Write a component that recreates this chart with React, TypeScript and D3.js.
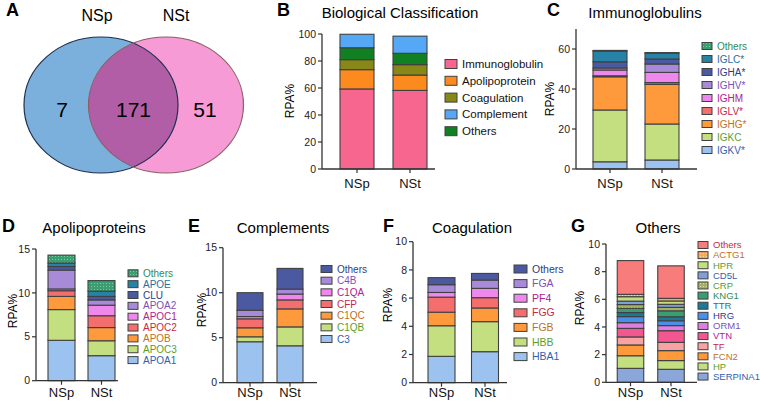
import React from "react";
import * as d3 from "d3";

const FONT = "'Liberation Sans', Arial, Helvetica, sans-serif";

const categories = ["NSp", "NSt"];

// Panel A – Venn
const vennSets = ["NSp", "NSt"];
const vennCounts = [7, 171, 51]; // NSp only, shared, NSt only

// Panel B – Biological classification
const bioLegend = ["Immunoglobulin", "Apolipoprotein", "Coagulation", "Complement", "Others"];
const bioStack = ["Immunoglobulin", "Apolipoprotein", "Coagulation", "Others", "Complement"];
const bioNSp = [59.3, 14.3, 7.4, 10.0, 8.8];
const bioNSt = [58.2, 11.4, 7.7, 12.7, 8.4];
const bioTicks = [0, 20, 40, 60, 80, 100];

// Panel C – Immunoglobulins (bottom -> top)
const igSeries = ["IGKV*", "IGKC", "IGHG*", "IGLV*", "IGHM", "IGHV*", "IGHA*", "IGLC*", "Others"];
const igNSp = [3.6, 25.9, 16.6, 0.5, 2.9, 1.0, 3.1, 5.3, 0.4];
const igNSt = [4.5, 18.0, 19.8, 0.9, 5.1, 4.2, 2.5, 2.9, 0.3];
const igTicks = [0, 20, 40, 60];

// Panel D – Apolipoproteins
const apoSeries = ["APOA1", "APOC3", "APOB", "APOC2", "APOC1", "APOA2", "CLU", "APOE", "Others"];
const apoNSp = [4.6, 3.5, 1.5, 0.65, 0.2, 2.15, 0.4, 0.4, 0.9];
const apoNSt = [2.85, 1.7, 1.5, 1.35, 1.2, 0.6, 0.4, 0.6, 1.2];
const apoTicks = [0, 5, 10, 15];

// Panel E – Complements
const compSeries = ["C3", "C1QB", "C1QC", "CFP", "C1QA", "C4B", "Others"];
const compNSp = [4.55, 0.55, 1.0, 1.0, 0.25, 0.7, 1.95];
const compNSt = [4.1, 2.1, 2.0, 1.0, 0.65, 0.55, 2.3];
const compTicks = [0, 5, 10, 15];

// Panel F – Coagulation
const coagSeries = ["HBA1", "HBB", "FGB", "FGG", "PF4", "FGA", "Others"];
const coagNSp = [1.87, 2.17, 0.96, 1.07, 0.33, 0.55, 0.5];
const coagNSt = [2.2, 2.13, 0.97, 0.73, 0.66, 0.59, 0.47];
const coagTicks = [0, 2, 4, 6, 8, 10];

// Panel G – Others
const othSeries = ["SERPINA1", "HP", "FCN2", "TF", "VTN", "ORM1", "HRG", "TTR", "KNG1", "CRP", "CD5L", "HPR", "ACTG1", "Others"];
const othNSp = [1.01, 0.91, 0.78, 0.58, 0.62, 0.41, 0.44, 0.29, 0.31, 0.27, 0.25, 0.32, 0.17, 2.44];
const othNSt = [0.94, 0.63, 0.72, 0.6, 0.84, 0.37, 0.35, 0.29, 0.43, 0.25, 0.22, 0.24, 0.19, 2.35];
const othTicks = [0, 2, 4, 6, 8, 10];

// ---------- styles ----------
const LB = "#9cc3f0", LG = "#c3df7f", OR = "#ff9a3c", SA = "#f56e6e", VI = "#ef88ec", PU = "#a78bd8", NA = "#4b5aa0", TE = "#2782a8", GR = "url(#patGreen)";
const tBlue = "#2f5fae", tGreen = "#5a9e2a", tOrange = "#c0701c", tRed = "#c82848", tMag = "#b0208f", tPur = "#7d4fb8", tNavy = "#2e3a85", tTeal = "#1f6fa0", tDGreen = "#2e8b57";

const bioColors = { Immunoglobulin: "#f7668f", Apolipoprotein: "#fc8a1e", Coagulation: "#878818", Complement: "#55a8f5", Others: "#108022" };
const igColors = [LB, LG, OR, SA, VI, PU, NA, TE, GR];
const igText = [tBlue, tGreen, tOrange, tRed, tMag, tPur, tNavy, tTeal, tDGreen];
const apoColors = [LB, LG, OR, SA, VI, PU, NA, TE, GR];
const apoText = [tBlue, tGreen, tOrange, tRed, tMag, tPur, tNavy, tTeal, tDGreen];
const compColors = [LB, LG, OR, SA, VI, PU, NA];
const compText = [tBlue, tGreen, tOrange, tRed, tMag, tPur, tNavy];
const coagColors = [LB, LG, OR, SA, VI, PU, NA];
const coagText = [tBlue, tGreen, tOrange, tRed, tMag, tPur, tNavy];
const othColors = ["#8ba6d9", LG, OR, "#f7a3a3", "#f2578f", "#dc7fe0", "#4a90e8", "#1e7896", "#3a9e70", "url(#patCrp)", "#7f9fd6", LG, "url(#patActg)", "#f87c7c"];
const othText = [tBlue, tGreen, tOrange, tRed, tMag, tPur, tNavy, tTeal, tDGreen, tGreen, tBlue, tGreen, tOrange, tRed];

type Layout = {
  letter: string; letterX: number; letterY: number;
  title: string; titleX: number; titleY: number;
  axisX: number; axisEnd: number; y0: number; yTop: number; yMax: number;
  centers: number[]; barW: number;
  ylabX: number; ylabY: number; xlabY: number;
  legX: number; legY0: number; legDy: number; swW: number; swH: number; legFont: number;
};

function StackPanel(props: {
  series: string[]; nsp: number[]; nst: number[]; colors: string[]; textColors: string[];
  legendOrder?: string[]; ticks: number[]; L: Layout;
}) {
  const { series, nsp, nst, colors, textColors, ticks, L } = props;
  const rows = categories.map((c, ci) => {
    const r: any = { cat: c };
    series.forEach((s, i) => (r[s] = (ci === 0 ? nsp : nst)[i]));
    return r;
  });
  const stacked = d3.stack().keys(series)(rows);
  const x = d3.scalePoint().domain(categories).range(L.centers as [number, number]);
  const y = d3.scaleLinear().domain([0, L.yMax]).range([L.y0, L.yTop]);
  const colorOf = (s: string) => colors[series.indexOf(s)];
  const tcolOf = (s: string) => textColors[series.indexOf(s)];
  const legend = props.legendOrder ?? series.slice().reverse();
  return (
    <g fontFamily={FONT}>
      <text x={L.letterX} y={L.letterY} fontSize={18} fontWeight="bold">{L.letter}</text>
      <text x={L.titleX} y={L.titleY} fontSize={15} textAnchor="middle">{L.title}</text>
      {stacked.map((layer) => (
        <g key={layer.key}>
          {layer.map((d: any, i: number) => (
            <rect key={i} x={(x(categories[i]) as number) - L.barW / 2} width={L.barW}
              y={y(d[1])} height={Math.max(0, y(d[0]) - y(d[1]))}
              fill={colorOf(layer.key)} stroke="#404040" strokeWidth={1.1} />
          ))}
        </g>
      ))}
      <line x1={L.axisX} x2={L.axisX} y1={L.y0} y2={y(L.yMax)} stroke="#333" strokeWidth={1.3} />
      <line x1={L.axisX} x2={L.axisEnd} y1={L.y0} y2={L.y0} stroke="#333" strokeWidth={1.3} />
      {ticks.map((t) => (
        <g key={t}>
          <line x1={L.axisX - 4} x2={L.axisX} y1={y(t)} y2={y(t)} stroke="#333" strokeWidth={1.2} />
          <text x={L.axisX - 6} y={y(t)} dy="0.35em" fontSize={10.5} textAnchor="end" fill="#222">{t}</text>
        </g>
      ))}
      {categories.map((c) => (
        <g key={c}>
          <line x1={x(c) as number} x2={x(c) as number} y1={L.y0} y2={L.y0 + 4} stroke="#333" strokeWidth={1.2} />
          <text x={x(c) as number} y={L.xlabY} fontSize={13} textAnchor="middle" fill="#111">{c}</text>
        </g>
      ))}
      <text transform={`translate(${L.ylabX},${L.ylabY}) rotate(-90)`} dy="0.35em" fontSize={12} textAnchor="middle">RPA%</text>
      {legend.map((s, i) => {
        const cy = L.legY0 + i * L.legDy;
        return (
          <g key={s}>
            <rect x={L.legX} y={cy - L.swH / 2} width={L.swW} height={L.swH} fill={colorOf(s)} stroke="#404040" strokeWidth={1} />
            <text x={L.legX + L.swW + 5} y={cy} dy="0.35em" fontSize={L.legFont} fill={tcolOf(s)}>{s}</text>
          </g>
        );
      })}
    </g>
  );
}

function Venn() {
  const L = { cx: 101, cy: 105, rx: 77, ry: 68 };
  const R = { cx: 166, cy: 105, rx: 77.5, ry: 68 };
  const xs = d3.scalePoint().domain(["a", "ab", "b"]).range([62, 205]);
  const keys = ["a", "ab", "b"];
  return (
    <g fontFamily={FONT}>
      <defs>
        <clipPath id="clipLeft"><ellipse cx={L.cx} cy={L.cy} rx={L.rx} ry={L.ry} /></clipPath>
      </defs>
      <text x={6} y={16} fontSize={18} fontWeight="bold">A</text>
      <ellipse cx={L.cx} cy={L.cy} rx={L.rx} ry={L.ry} fill="#7bb0dc" />
      <ellipse cx={R.cx} cy={R.cy} rx={R.rx} ry={R.ry} fill="#f79bd6" />
      <ellipse cx={R.cx} cy={R.cy} rx={R.rx} ry={R.ry} fill="#b15ea6" clipPath="url(#clipLeft)" />
      <ellipse cx={L.cx} cy={L.cy} rx={L.rx} ry={L.ry} fill="none" stroke="#1f2f4f" strokeWidth={1.2} />
      <ellipse cx={R.cx} cy={R.cy} rx={R.rx} ry={R.ry} fill="none" stroke="#8a5f66" strokeWidth={1.2} />
      <text x={97} y={21} fontSize={16} textAnchor="middle">{vennSets[0]}</text>
      <text x={176} y={21} fontSize={16} textAnchor="middle">{vennSets[1]}</text>
      {vennCounts.map((v, i) => (
        <text key={i} x={xs(keys[i]) as number} y={110} dy="0.35em" fontSize={21} textAnchor="middle">{v}</text>
      ))}
    </g>
  );
}

const layoutB: Layout = { letter: "B", letterX: 277, letterY: 16, title: "Biological Classification", titleX: 400, titleY: 18, axisX: 322, axisEnd: 435, y0: 169, yTop: 34, yMax: 100, centers: [357, 410], barW: 34, ylabX: 290, ylabY: 101, xlabY: 188, legX: 445, legY0: 64, legDy: 16.8, swW: 12, swH: 9, legFont: 11.5 };
const layoutC: Layout = { letter: "C", letterX: 547, letterY: 16, title: "Immunoglobulins", titleX: 645, titleY: 18, axisX: 576, axisEnd: 697, y0: 169, yTop: 29, yMax: 70, centers: [610, 662], barW: 34, ylabX: 550, ylabY: 99, xlabY: 188, legX: 702, legY0: 46, legDy: 13, swW: 10, swH: 7, legFont: 10 };
const layoutD: Layout = { letter: "D", letterX: 2, letterY: 232, title: "Apolipoproteins", titleX: 94, titleY: 233, axisX: 36, axisEnd: 118, y0: 380.7, yTop: 249, yMax: 15, centers: [61.5, 101.5], barW: 27, ylabX: 13, ylabY: 311, xlabY: 397, legX: 128, legY0: 273.3, legDy: 10.85, swW: 10, swH: 7, legFont: 10 };
const layoutE: Layout = { letter: "E", letterX: 188, letterY: 232, title: "Complements", titleX: 283, titleY: 233, axisX: 223, axisEnd: 317, y0: 382.7, yTop: 247.7, yMax: 15, centers: [250, 290], barW: 26, ylabX: 202, ylabY: 310, xlabY: 397, legX: 321, legY0: 269, legDy: 11.67, swW: 11, swH: 7, legFont: 10 };
const layoutF: Layout = { letter: "F", letterX: 383, letterY: 232, title: "Coagulation", titleX: 472, titleY: 233, axisX: 413, axisEnd: 507, y0: 382.7, yTop: 241.7, yMax: 10, centers: [441.5, 485], barW: 27, ylabX: 388, ylabY: 305, xlabY: 397, legX: 514, legY0: 269, legDy: 14.6, swW: 13, swH: 8, legFont: 10.5 };
const layoutG: Layout = { letter: "G", letterX: 571, letterY: 232, title: "Others", titleX: 658, titleY: 233, axisX: 606, axisEnd: 697, y0: 382.3, yTop: 244, yMax: 10, centers: [630.5, 671], barW: 26.5, ylabX: 580, ylabY: 308, xlabY: 397, legX: 698, legY0: 245, legDy: 10.12, swW: 10, swH: 7, legFont: 9.5 };

export default function App() {
  const bioColorArr = bioStack.map((k) => (bioColors as any)[k]);
  const bioNSpArr = bioStack.map((k) => bioNSp[bioLegend.indexOf(k)]);
  const bioNStArr = bioStack.map((k) => bioNSt[bioLegend.indexOf(k)]);
  return (
    <svg width={760} height={405} style={{ position: "absolute", left: 0, top: 0, background: "#fff" }}>
      <defs>
        <pattern id="patGreen" width="3" height="3" patternUnits="userSpaceOnUse">
          <rect width="3" height="3" fill="#3a9e70" />
          <rect x="1" y="1" width="1" height="1" fill="#7fc79f" />
        </pattern>
        <pattern id="patCrp" width="3" height="3" patternUnits="userSpaceOnUse">
          <rect width="3" height="3" fill="#a4b266" />
          <rect x="1" y="1" width="1" height="1" fill="#d4dca6" />
        </pattern>
        <pattern id="patActg" width="3" height="3" patternUnits="userSpaceOnUse">
          <rect width="3" height="3" fill="#f4a860" />
          <rect x="1" y="1" width="1" height="1" fill="#fbd8a8" />
        </pattern>
      </defs>
      <Venn />
      <StackPanel series={bioStack} nsp={bioNSpArr} nst={bioNStArr} colors={bioColorArr}
        textColors={bioStack.map(() => "#111")} legendOrder={bioLegend} ticks={bioTicks} L={layoutB} />
      <StackPanel series={igSeries} nsp={igNSp} nst={igNSt} colors={igColors} textColors={igText} ticks={igTicks} L={layoutC} />
      <StackPanel series={apoSeries} nsp={apoNSp} nst={apoNSt} colors={apoColors} textColors={apoText} ticks={apoTicks} L={layoutD} />
      <StackPanel series={compSeries} nsp={compNSp} nst={compNSt} colors={compColors} textColors={compText} ticks={compTicks} L={layoutE} />
      <StackPanel series={coagSeries} nsp={coagNSp} nst={coagNSt} colors={coagColors} textColors={coagText} ticks={coagTicks} L={layoutF} />
      <StackPanel series={othSeries} nsp={othNSp} nst={othNSt} colors={othColors} textColors={othText} ticks={othTicks} L={layoutG} />
    </svg>
  );
}
